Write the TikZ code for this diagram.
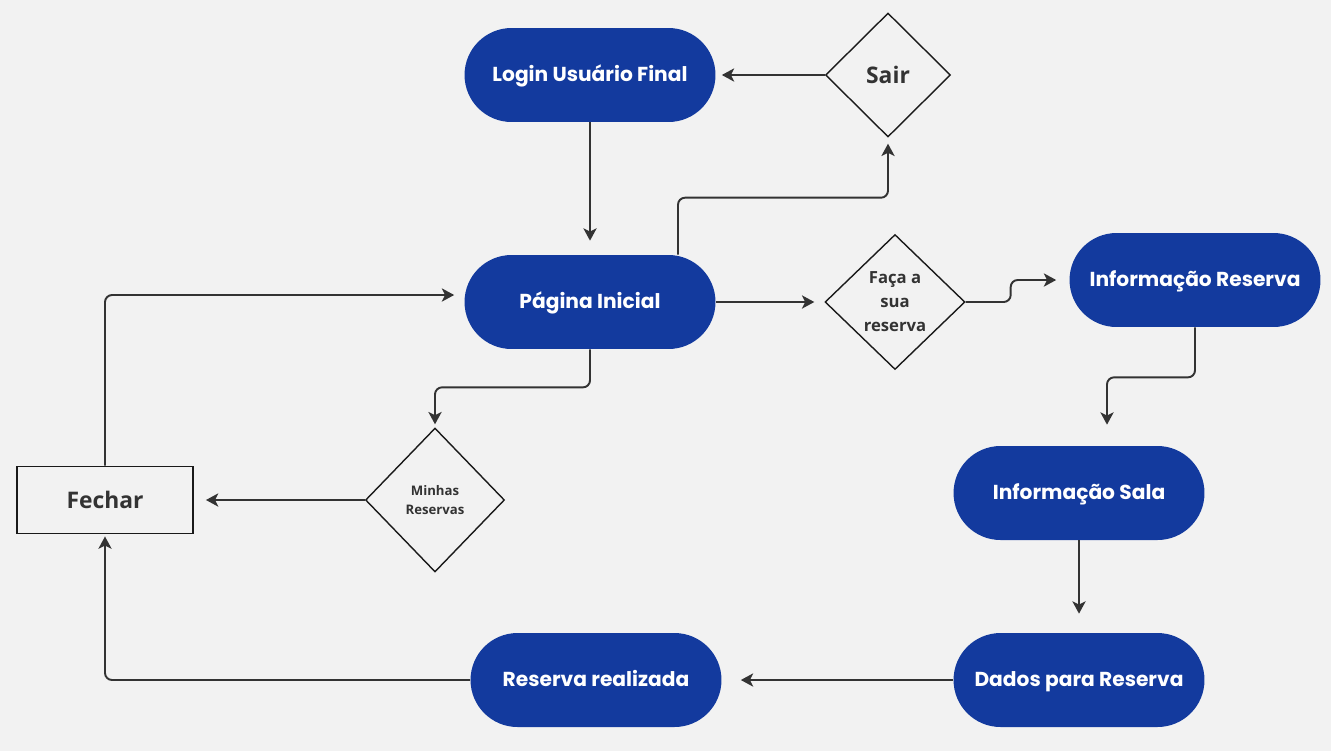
\documentclass[tikz,border=0pt]{standalone}
\usepackage{fontspec}
\setmainfont{Open Sans}
\newfontfamily\pillfont{Poppins}
\usetikzlibrary{arrows.meta,shapes.geometric,calc}
\definecolor{bg}{HTML}{F2F2F2}
\definecolor{pillblue}{HTML}{133A9E}
\definecolor{ink}{HTML}{333333}
\definecolor{edge}{HTML}{1A1A1A}
\begin{document}
\begin{tikzpicture}[x=0.02cm,y=-0.02cm,
  pill/.style={fill=pillblue, draw=none, rounded corners=0.94cm,
    minimum width=5.02cm, minimum height=1.88cm, inner sep=0pt,
    text height=0.7em, text depth=0pt,
    text=white, font=\pillfont\bfseries\fontsize{11.5}{13}\selectfont},
  decision/.style={diamond, draw=edge, line width=0.8pt, fill=bg,
    inner sep=0pt, align=center, text=ink},
  boxnode/.style={rectangle, draw=edge, line width=1.1pt, fill=bg,
    minimum width=3.52cm, minimum height=1.34cm, text=ink,
    font=\bfseries\fontsize{13}{15}\selectfont},
  conn/.style={draw=ink, line width=1.1pt, rounded corners=4pt,
    -{Stealth[length=7pt,width=7.5pt,inset=1.8pt]}}
]
\fill[bg] (0,0) rectangle (1331,751);
\useasboundingbox (0,0) rectangle (1331,751);

% nodes
\node[pill] (login) at (590,75) {Login Usuário Final};
\node[pill] (pagina) at (590,302) {Página Inicial};
\node[pill] (infores) at (1195,280) {Informação Reserva};
\node[pill] (infosala) at (1079,493) {Informação Sala};
\node[pill] (dados) at (1079,680) {Dados para Reserva};
\node[pill] (realizada) at (596,680) {Reserva realizada};

\node[decision, minimum width=2.5cm, minimum height=2.48cm,
  font=\bfseries\fontsize{13}{15}\selectfont] (sair) at (888,75) {Sair};
\node[decision, minimum width=2.8cm, minimum height=2.7cm,
  font=\bfseries\fontsize{9.5}{13.6}\selectfont] (faca) at (895,302) {Faça a\\sua\\reserva};
\node[decision, minimum width=2.78cm, minimum height=2.88cm,
  font=\bfseries\fontsize{7.5}{10.8}\selectfont] (minhas) at (435,500) {Minhas\\Reservas};

\node[boxnode] (fechar) at (105,500) {Fechar};

% connectors
\draw[conn, shorten >=0.12cm] (sair.west) -- (login.east);
\draw[conn, shorten >=0.28cm] (login.south) -- (pagina.north);
\draw[conn, shorten >=0.12cm] ($(pagina.north)+(88,0)$) |- ($(sair.south)+(0,60)$) -- (sair.south);
\draw[conn, shorten >=0.2cm] (pagina.east) -- (faca.west);
\draw[conn, shorten >=0.26cm] (faca.east) -- ++(45,0) |- (infores.west);
\draw[conn, shorten >=0.42cm] (infores.south) -- ++(0,50) -| ($(infosala.north)+(28,0)$);
\draw[conn, shorten >=0.38cm] (infosala.south) -- (dados.north);
\draw[conn, shorten >=0.38cm] (dados.west) -- (realizada.east);
\draw[conn, shorten >=0.04cm] (realizada.west) -| (fechar.south);
\draw[conn, shorten >=0.2cm] (fechar.north) |- ($(pagina.west)+(0,-7)$);
\draw[conn, shorten >=0.06cm] (pagina.south) -- ++(0,38) -| (minhas.north);
\draw[conn, shorten >=0.24cm] (minhas.west) -- (fechar.east);
\end{tikzpicture}
\end{document}
